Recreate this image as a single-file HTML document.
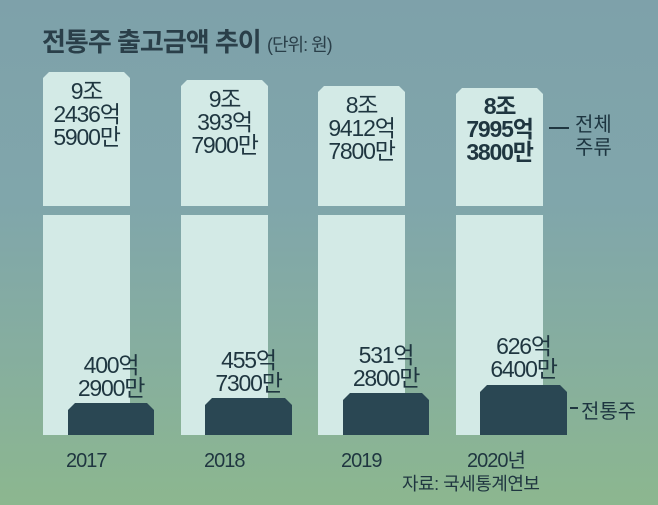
<!DOCTYPE html>
<html><head><meta charset="utf-8"><style>
body{margin:0}
#c{position:relative;width:658px;height:505px;overflow:hidden;font-family:"Liberation Sans","Noto Sans CJK KR",sans-serif;color:#1d3540;
background:linear-gradient(180deg,#7ea1aa 0%,#80a6ab 40%,#86ae9f 70%,#8cb78f 100%)}
.t{position:absolute;white-space:nowrap}
.lb{position:absolute;background:#d3eae6;clip-path:polygon(6px 0,calc(100% - 6px) 0,100% 6px,100% 100%,0 100%,0 6px)}
.lo{position:absolute;background:#d3eae6}
.db{position:absolute;background:#2a4753;clip-path:polygon(7px 0,calc(100% - 7px) 0,100% 7px,100% 100%,0 100%,0 7px)}
.v{position:absolute;text-align:center;font-size:23px;line-height:23px;letter-spacing:-1.2px;color:#1f3640}
.y{position:absolute;font-size:20px;line-height:22px;letter-spacing:-1px;color:#1f3640}
</style></head><body><div id="c">
<div class="t" style="left:42px;top:22px;font-size:26px;font-weight:bold;color:#2a3f49;letter-spacing:-1px">전통주 출고금액 추이 <span style="font-size:18px;font-weight:normal">(단위: 원)</span></div>

<div class="lb" style="left:43px;top:72px;width:87px;height:134px"></div>
<div class="lo" style="left:43px;top:215px;width:87px;height:220px"></div>
<div class="lb" style="left:181px;top:80px;width:87px;height:126px"></div>
<div class="lo" style="left:181px;top:215px;width:87px;height:220px"></div>
<div class="lb" style="left:318px;top:86px;width:87px;height:120px"></div>
<div class="lo" style="left:318px;top:215px;width:87px;height:220px"></div>
<div class="lb" style="left:456px;top:88px;width:87px;height:118px"></div>
<div class="lo" style="left:456px;top:215px;width:87px;height:220px"></div>

<div class="db" style="left:68px;top:403px;width:86px;height:32px"></div>
<div class="db" style="left:205px;top:398px;width:87px;height:37px"></div>
<div class="db" style="left:343px;top:393px;width:86px;height:42px"></div>
<div class="db" style="left:480px;top:385px;width:87px;height:50px"></div>

<div class="v" style="left:43px;top:80px;width:87px">9조<br>2436억<br>5900만</div>
<div class="v" style="left:181px;top:88px;width:87px">9조<br>393억<br>7900만</div>
<div class="v" style="left:318px;top:94px;width:87px">8조<br>9412억<br>7800만</div>
<div class="v" style="left:456px;top:95px;width:87px;font-weight:bold">8조<br>7995억<br>3800만</div>

<div class="v" style="left:68px;top:354px;width:86px">400억<br>2900만</div>
<div class="v" style="left:205px;top:349px;width:87px">455억<br>7300만</div>
<div class="v" style="left:343px;top:344px;width:86px">531억<br>2800만</div>
<div class="v" style="left:480px;top:335px;width:87px">626억<br>6400만</div>

<div style="position:absolute;left:549px;top:127px;width:20px;height:1.5px;background:#1f3640"></div>
<div class="t" style="left:575px;top:114px;font-size:20px;line-height:23px">전체<br>주류</div>
<div style="position:absolute;left:570px;top:407px;width:8px;height:1.5px;background:#1f3640"></div>
<div class="t" style="left:581px;top:395px;font-size:20px">전통주</div>

<div class="y" style="left:66px;top:450px">2017</div>
<div class="y" style="left:204px;top:450px">2018</div>
<div class="y" style="left:341px;top:450px">2019</div>
<div class="y" style="left:467px;top:450px">2020년</div>
<div class="t" style="left:402px;top:474px;font-size:18px;line-height:20px;letter-spacing:-0.5px;color:#1f3640">자료: 국세통계연보</div>
</div></body></html>
